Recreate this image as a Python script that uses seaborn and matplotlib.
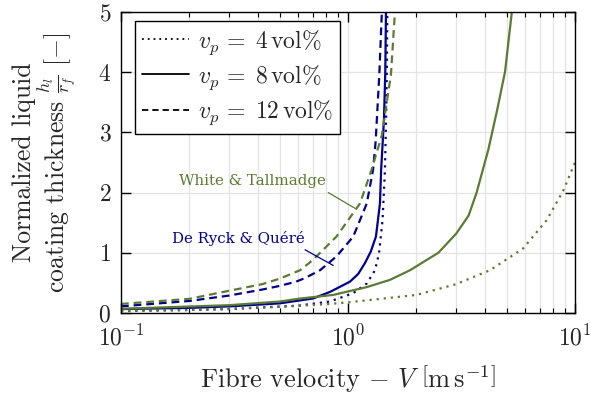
import numpy as np
import pandas as pd
import matplotlib
matplotlib.use("Agg")
import matplotlib.pyplot as plt
import seaborn as sns
from matplotlib.lines import Line2D
from matplotlib.ticker import LogLocator, NullFormatter, NullLocator

# ---- data ----
# De Ryck & Quere (blue)
v_drq_4 = [0.1, 0.2, 0.3, 0.6, 0.83, 0.906, 1.055, 1.21, 1.315, 1.37, 1.42, 1.455, 1.475, 1.485, 1.49]
h_drq_4 = [0.035, 0.05, 0.065, 0.12, 0.19, 0.24, 0.33, 0.49, 0.71, 0.99, 1.54, 2.38, 3.4, 4.2, 5.0]
v_drq_8 = [0.1, 0.2, 0.3, 0.5, 0.7, 0.833, 1.02, 1.11, 1.188, 1.26, 1.328, 1.383, 1.40, 1.44, 1.46, 1.47]
h_drq_8 = [0.065, 0.085, 0.11, 0.16, 0.24, 0.35, 0.52, 0.65, 0.83, 1.02, 1.27, 1.82, 2.38, 3.2, 4.0, 5.0]
v_drq_12 = [0.1, 0.2, 0.3, 0.42, 0.5, 0.59, 0.646, 0.753, 0.89, 1.055, 1.21, 1.29, 1.324, 1.374, 1.41]
h_drq_12 = [0.11, 0.20, 0.29, 0.39, 0.45, 0.52, 0.58, 0.71, 0.94, 1.27, 1.82, 2.38, 2.85, 3.96, 5.0]
# White & Tallmadge (green)
v_wt_4 = [0.1, 0.2, 0.3, 0.6, 0.83, 1.02, 1.43, 2.0, 3.0, 4.22, 5.9, 7.5, 8.9, 10.0]
h_wt_4 = [0.035, 0.05, 0.07, 0.12, 0.15, 0.18, 0.24, 0.30, 0.48, 0.71, 1.07, 1.54, 2.04, 2.5]
v_wt_8 = [0.1, 0.3, 0.5, 0.615, 0.86, 1.21, 1.53, 1.876, 2.5, 3.0, 3.4, 3.68, 4.15, 4.54, 4.92, 5.27]
h_wt_8 = [0.07, 0.13, 0.19, 0.24, 0.30, 0.43, 0.55, 0.71, 1.0, 1.32, 1.62, 1.99, 2.71, 3.37, 4.01, 5.0]
v_wt_12 = [0.1, 0.2, 0.3, 0.42, 0.5, 0.615, 0.70, 0.89, 1.13, 1.27, 1.41, 1.455, 1.546, 1.61]
h_wt_12 = [0.15, 0.235, 0.37, 0.48, 0.57, 0.71, 0.88, 1.27, 1.82, 2.38, 2.95, 3.3, 3.96, 5.0]

vol_labels = ["4 vol%", "8 vol%", "12 vol%"]
models = ["De Ryck & Quéré", "White & Tallmadge"]
y_ticks = [0, 1, 2, 3, 4, 5]

frames = []
for model, series in [
    (models[0], [(v_drq_4, h_drq_4), (v_drq_8, h_drq_8), (v_drq_12, h_drq_12)]),
    (models[1], [(v_wt_4, h_wt_4), (v_wt_8, h_wt_8), (v_wt_12, h_wt_12)]),
]:
    for vol, (v, h) in zip(vol_labels, series):
        frames.append(pd.DataFrame({"V": v, "h": h, "model": model, "vol": vol}))
df = pd.concat(frames, ignore_index=True)

BLUE = "#00008B"
GREEN = "#5b7b34"

sns.set_theme(style="ticks")
plt.rcParams["font.family"] = ["cmr10", "DejaVu Serif"]
plt.rcParams["mathtext.fontset"] = "cm"
plt.rcParams["axes.formatter.use_mathtext"] = True

fig = plt.figure(figsize=(5.91, 3.97), dpi=100)
ax = fig.add_axes([0.2047, 0.2116, 0.7682, 0.7582])

lw = 1.6
sns.lineplot(
    data=df, x="V", y="h", hue="model", style="vol",
    palette={models[0]: BLUE, models[1]: GREEN},
    dashes={"4 vol%": (1, 2.2), "8 vol%": "", "12 vol%": (3.5, 2.2)},
    estimator=None, sort=False, legend=False, linewidth=lw, ax=ax,
)

ax.set_xscale("log")
ax.set_xlim(0.1, 10)
ax.set_ylim(0, 5)
ax.set_yticks(y_ticks)
ax.yaxis.set_minor_locator(NullLocator())
ax.xaxis.set_major_locator(LogLocator(base=10))
ax.xaxis.set_minor_locator(LogLocator(base=10, subs=np.arange(2, 10)))
ax.xaxis.set_minor_formatter(NullFormatter())

ax.set_axisbelow(True)
ax.grid(True, which="major", color="#e4e4e4", lw=0.9)
ax.xaxis.grid(True, which="minor", color="#e4e4e4", lw=0.9)

for s in ax.spines.values():
    s.set_color("black")
    s.set_linewidth(1.0)

ax.tick_params(which="both", direction="in", top=True, right=True, color="black")
ax.tick_params(which="major", length=7, width=1.0, labelsize=17)
ax.tick_params(axis="x", which="major", pad=9)
ax.tick_params(axis="y", which="major", pad=7)
ax.tick_params(which="minor", length=3.5, width=0.8)

ax.set_xlabel(r"Fibre velocity $-$ $V$ $\left[\mathrm{m\,s^{-1}}\right]$", fontsize=19, labelpad=9)
ax.set_ylabel("Normalized liquid\n" + r"coating thickness $\frac{h_l}{r_f}$ [$-$]",
              fontsize=18.5, labelpad=14, linespacing=1.0)

handles = [
    Line2D([], [], color="black", lw=1.3, dashes=(1, 2.2)),
    Line2D([], [], color="black", lw=1.3),
    Line2D([], [], color="black", lw=1.3, dashes=(3.5, 2.2)),
]
labels = [r"$v_p\,=\;4\,\mathrm{vol\%}$", r"$v_p\,=\;8\,\mathrm{vol\%}$", r"$v_p\,=\;12\,\mathrm{vol\%}$"]
leg = ax.legend(handles, labels, loc="upper left", bbox_to_anchor=(0.031, 0.970),
                borderaxespad=0, fancybox=False, edgecolor="black", framealpha=1,
                fontsize=17, handlelength=2.0, handletextpad=0.35, labelspacing=0.28,
                borderpad=0.3)
leg.get_frame().set_linewidth(1.0)

ax.text(0.378, 2.19, "White & Tallmadge", color=GREEN, fontsize=10.8,
        family="DejaVu Serif", ha="center", va="center")
ax.plot([0.819, 1.073], [2.0, 1.74], color=GREEN, lw=0.9)
ax.text(0.328, 1.23, "De Ryck & Quéré", color=BLUE, fontsize=10.8,
        family="DejaVu Serif", ha="center", va="center")
ax.plot([0.647, 0.861], [1.05, 0.79], color=BLUE, lw=0.9)

fig.savefig("out.png", dpi=100)
